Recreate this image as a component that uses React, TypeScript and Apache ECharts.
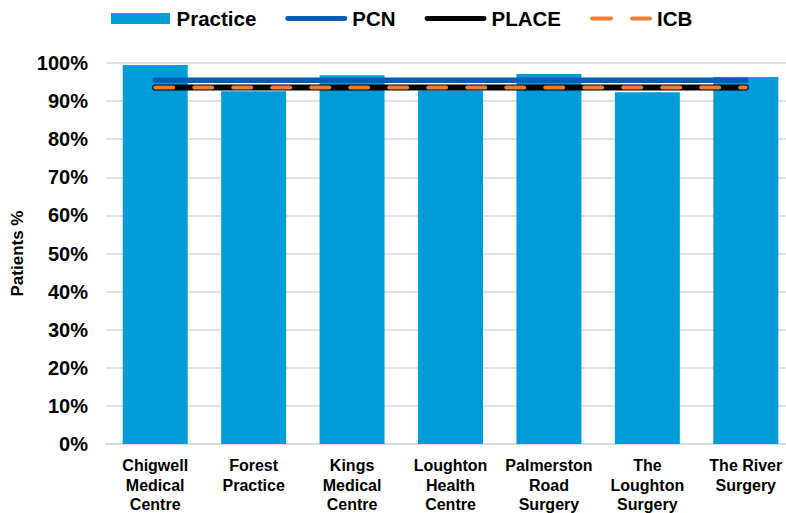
import React, { useEffect, useRef } from "react";
import * as echarts from "echarts";

const categories = [
  "Chigwell\nMedical\nCentre",
  "Forest\nPractice",
  "Kings\nMedical\nCentre",
  "Loughton\nHealth\nCentre",
  "Palmerston\nRoad\nSurgery",
  "The\nLoughton\nSurgery",
  "The River\nSurgery",
];
const practiceValues = [99.5, 92.6, 96.8, 92.8, 97.1, 92.3, 96.3];
const pcnValues = [95.5, 95.5, 95.5, 95.5, 95.5, 95.5, 95.5];
const placeValues = [93.6, 93.6, 93.6, 93.6, 93.6, 93.6, 93.6];
const icbValues = [93.6, 93.6, 93.6, 93.6, 93.6, 93.6, 93.6];
const yTicks = { min: 0, max: 100, interval: 10 };

const FONT = "'Liberation Sans', Arial, sans-serif";

const RECT_ICON = "path://M0,0H59V11H0Z";
const LINE_ICON =
  "path://M2.5,0H61.5A2.5,2.5,0,0,1,61.5,5H2.5A2.5,2.5,0,0,1,2.5,0Z";
const DASH_ICON =
  "path://M2,0H21A2,2,0,0,1,21,4H2A2,2,0,0,1,2,0ZM42,0H60A2,2,0,0,1,60,4H42A2,2,0,0,1,42,0Z";

export default function App() {
  const ref = useRef<HTMLDivElement>(null);
  useEffect(() => {
    if (!ref.current) return;
    const chart = echarts.init(ref.current, undefined, { renderer: "svg" });
    chart.setOption({
      animation: false,
      backgroundColor: "#ffffff",
      textStyle: { fontFamily: FONT },
      legend: {
        left: 106,
        top: 3,
        itemWidth: 62,
        itemHeight: 11,
        itemGap: 29,
        textStyle: { fontFamily: FONT, fontSize: 20.5, fontWeight: "bold", color: "#000" },
        data: [
          { name: "Practice", icon: RECT_ICON },
          { name: "PCN", icon: LINE_ICON },
          { name: "PLACE", icon: LINE_ICON },
          { name: "ICB", icon: DASH_ICON },
        ],
      },
      grid: {
        left: 106,
        top: 63,
        width: 689,
        height: 381,
        containLabel: false,
        outerBoundsMode: "none",
      },
      xAxis: {
        type: "category",
        data: categories,
        axisTick: { show: false },
        axisLine: { show: true, lineStyle: { color: "#D9D9D9", width: 1.5 } },
        axisLabel: {
          interval: 0,
          margin: 12,
          fontFamily: FONT,
          fontSize: 16,
          fontWeight: "bold",
          color: "#000",
          lineHeight: 19.5,
        },
      },
      yAxis: {
        type: "value",
        min: yTicks.min,
        max: yTicks.max,
        interval: yTicks.interval,
        name: "Patients %",
        nameLocation: "middle",
        nameGap: 80,
        nameTextStyle: { fontFamily: FONT, fontSize: 17, fontWeight: "bold", color: "#000" },
        axisLine: { show: false },
        axisTick: { show: false },
        splitLine: { lineStyle: { color: "#D9D9D9", width: 1.5 } },
        axisLabel: {
          margin: 18,
          formatter: "{value}%",
          fontFamily: FONT,
          fontSize: 20,
          fontWeight: "bold",
          color: "#000",
        },
      },
      series: [
        {
          name: "Practice",
          type: "bar",
          data: practiceValues,
          barCategoryGap: "34%",
          itemStyle: { color: "#009CDA" },
        },
        {
          name: "PCN",
          type: "line",
          data: pcnValues,
          symbol: "none",
          lineStyle: { color: "#005EB8", width: 5.5, cap: "round" },
          itemStyle: { color: "#005EB8" },
        },
        {
          name: "PLACE",
          type: "line",
          data: placeValues,
          symbol: "none",
          lineStyle: { color: "#000000", width: 6, cap: "round" },
          itemStyle: { color: "#000000" },
        },
        {
          name: "ICB",
          type: "line",
          data: icbValues,
          symbol: "none",
          lineStyle: { color: "#ED7D31", width: 4, type: [18, 21], cap: "round" },
          itemStyle: { color: "#ED7D31" },
        },
      ],
    });
    return () => chart.dispose();
  }, []);
  return (
    <div
      ref={ref}
      style={{ position: "fixed", left: 0, top: 0, width: 786, height: 513 }}
    />
  );
}
